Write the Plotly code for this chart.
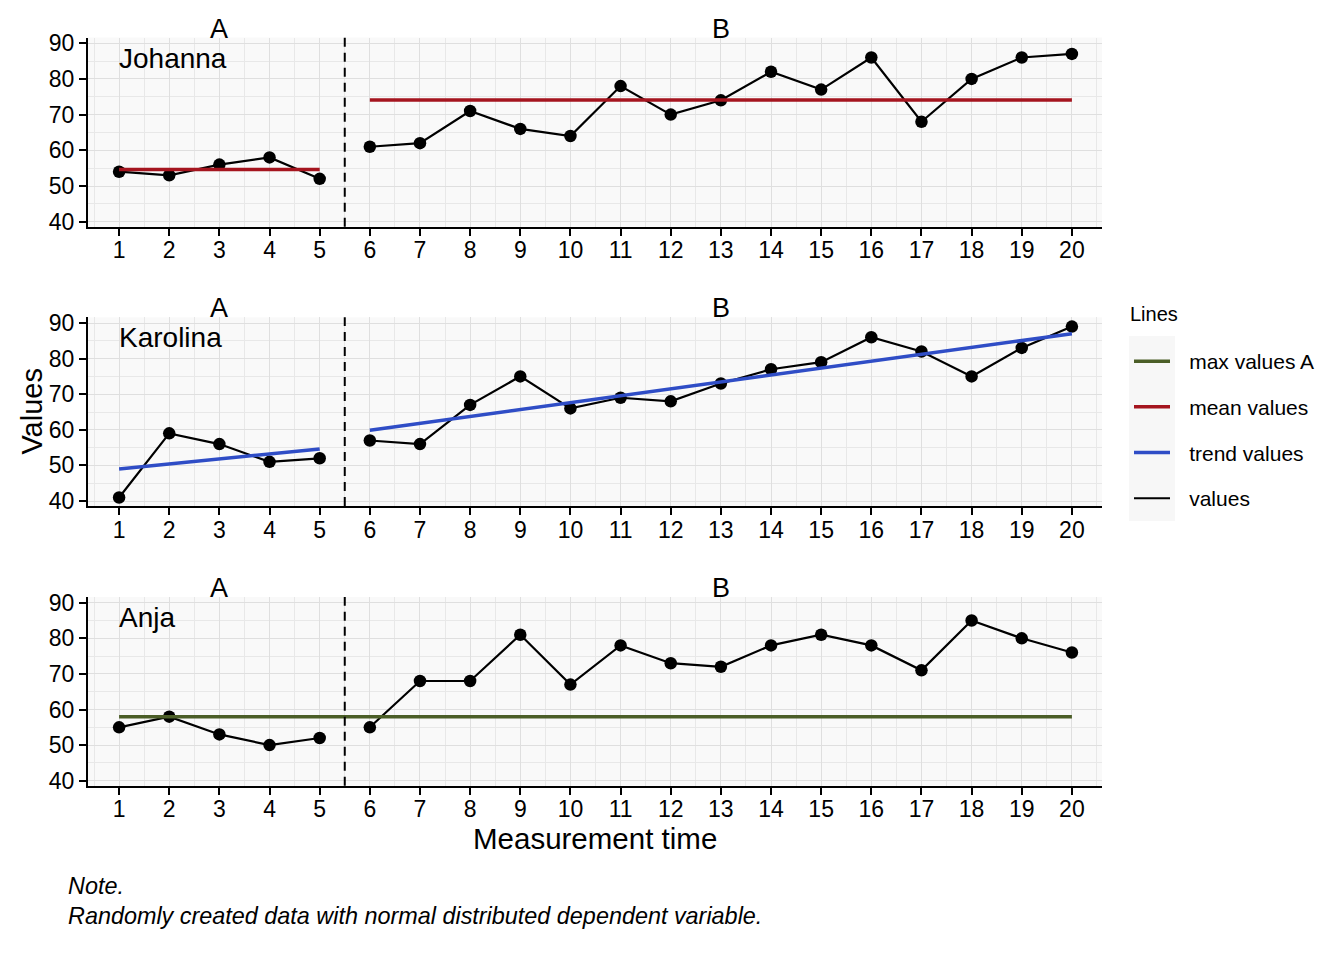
import plotly.graph_objects as go

# ---------------- data ----------------
time_A = [1, 2, 3, 4, 5]
time_B = [6, 7, 8, 9, 10, 11, 12, 13, 14, 15, 16, 17, 18, 19, 20]
tick_labels = ["1", "2", "3", "4", "5", "6", "7", "8", "9", "10",
               "11", "12", "13", "14", "15", "16", "17", "18", "19", "20"]
y_ticks = [40, 50, 60, 70, 80, 90]

persons = ["Johanna", "Karolina", "Anja"]
phases = ["A", "B"]
phase_centers = [3, 13]

johanna_A = [54, 53, 56, 58, 52]
johanna_B = [61, 62, 71, 66, 64, 78, 70, 74, 82, 77, 86, 68, 80, 86, 87]
karolina_A = [41, 59, 56, 51, 52]
karolina_B = [57, 56, 67, 75, 66, 69, 68, 73, 77, 79, 86, 82, 75, 83, 89]
anja_A = [55, 58, 53, 50, 52]
anja_B = [55, 68, 68, 81, 67, 78, 73, 72, 78, 81, 78, 71, 85, 80, 76]

# summary lines
johanna_mean_A = 54.6
johanna_mean_B = 74.1
karolina_trend_A = [49.0, 54.6]   # value at start / end of phase A
karolina_trend_B = [59.9, 87.0]   # value at start / end of phase B
anja_max_A = 58

legend_names = ["max values A", "mean values", "trend values", "values"]

# ---------------- style ----------------
OFF = 8                      # page offset of the figure inside the browser
W, H = 1344 - OFF, 960 - OFF


def px(x):
    return (x - OFF) / W


def py(y):
    return 1 - (y - OFF) / H


FONT = "Liberation Sans, Arial, Helvetica, sans-serif"
C_GREEN = "#4B5E27"
C_RED = "#A5151F"
C_BLUE = "#2F4DC6"
C_BLACK = "#000000"
GRID = "#DFDFDF"
GRID_MINOR = "#E8E8E8"
PANEL_BG = "#F9F9F9"

x_dom = [px(88), px(1102)]
panel_px = [(37.5, 226.7), (317.3, 506.0), (597.0, 785.7)]
y_doms = [[py(b), py(t)] for (t, b) in panel_px]

fig = go.Figure()

values_A = [johanna_A, karolina_A, anja_A]
values_B = [johanna_B, karolina_B, anja_B]

for i in range(3):
    xa = "x" if i == 0 else f"x{i+1}"
    ya = "y" if i == 0 else f"y{i+1}"
    for xs, ys in ((time_A, values_A[i]), (time_B, values_B[i])):
        fig.add_trace(go.Scatter(
            x=xs, y=ys, mode="lines+markers", xaxis=xa, yaxis=ya,
            line=dict(color=C_BLACK, width=2.2),
            marker=dict(color=C_BLACK, size=12.5),
            showlegend=False, hoverinfo="x+y"))

# Johanna means
fig.add_trace(go.Scatter(x=[time_A[0], time_A[-1]], y=[johanna_mean_A, johanna_mean_A],
                         mode="lines", line=dict(color=C_RED, width=3.5),
                         xaxis="x", yaxis="y", showlegend=False))
fig.add_trace(go.Scatter(x=[time_B[0], time_B[-1]], y=[johanna_mean_B, johanna_mean_B],
                         mode="lines", line=dict(color=C_RED, width=3.5),
                         xaxis="x", yaxis="y", showlegend=False))
# Karolina trends
fig.add_trace(go.Scatter(x=[time_A[0], time_A[-1]], y=karolina_trend_A,
                         mode="lines", line=dict(color=C_BLUE, width=3.5),
                         xaxis="x2", yaxis="y2", showlegend=False))
fig.add_trace(go.Scatter(x=[time_B[0], time_B[-1]], y=karolina_trend_B,
                         mode="lines", line=dict(color=C_BLUE, width=3.5),
                         xaxis="x2", yaxis="y2", showlegend=False))
# Anja max A
fig.add_trace(go.Scatter(x=[time_A[0], time_B[-1]], y=[anja_max_A, anja_max_A],
                         mode="lines", line=dict(color=C_GREEN, width=3.5),
                         xaxis="x3", yaxis="y3", showlegend=False))

# legend entries
NB = "<span style='font-size:17px'>" + "\u00a0" * 3 + "</span>"
for name, col, w in zip(legend_names, [C_GREEN, C_RED, C_BLUE, C_BLACK], [3.5, 3.5, 3.5, 2.2]):
    fig.add_trace(go.Scatter(x=[None], y=[None], mode="lines", name=NB + name,
                             line=dict(color=col, width=w), legendgroup=name,
                             showlegend=True, xaxis="x", yaxis="y"))

axis_common = dict(showline=True, linecolor="black", linewidth=2,
                   ticks="outside", ticklen=7, tickwidth=1.6, tickcolor="black",
                   showgrid=True, gridcolor=GRID, gridwidth=1, zeroline=False,
                   automargin=False, tickfont=dict(family=FONT, size=23, color="black"))

layout = dict(width=W, height=H, margin=dict(l=0, r=0, t=0, b=0),
              paper_bgcolor="white", plot_bgcolor=PANEL_BG,
              font=dict(family=FONT, color="black"),
              showlegend=True,
              legend=dict(x=px(1129), y=py(341), xanchor="left", yanchor="top",
                          font=dict(size=21, family=FONT), bgcolor="rgba(0,0,0,0)",
                          traceorder="grouped", tracegroupgap=15.4, itemwidth=36))

shapes = []
annotations = []
for i in range(3):
    sfx = "" if i == 0 else str(i + 1)
    layout[f"xaxis{sfx}"] = dict(axis_common, domain=x_dom, range=[0.38, 20.6],
                                 tickmode="array", tickvals=time_A + time_B, ticktext=tick_labels,
                                 anchor=f"y{sfx}", ticklabelstandoff=-5,
                                 minor=dict(tickmode="linear", tick0=0.5, dtick=1, showgrid=True,
                                            gridcolor=GRID_MINOR, ticks=""))
    layout[f"yaxis{sfx}"] = dict(axis_common, domain=y_doms[i], range=[38.6, 91.6],
                                 tickmode="array", tickvals=y_ticks,
                                 anchor=f"x{sfx}",
                                 minor=dict(tickmode="linear", tick0=45, dtick=10, showgrid=True,
                                            gridcolor=GRID_MINOR, ticks=""))
    shapes.append(dict(type="line", xref=f"x{sfx}", yref=f"y{sfx} domain",
                       x0=5.5, x1=5.5, y0=0, y1=1,
                       line=dict(color="black", width=2, dash="9px,6px")))
    for ph, cx in zip(phases, phase_centers):
        annotations.append(dict(text=ph, xref=f"x{sfx}", yref=f"y{sfx} domain", x=cx, y=1,
                                xanchor="center", yanchor="bottom", yshift=-8, showarrow=False,
                                font=dict(size=27, family=FONT)))
    annotations.append(dict(text=persons[i], xref=f"x{sfx}", yref=f"y{sfx} domain",
                            x=time_A[0], y=1, xanchor="left", yanchor="top", yshift=-3,
                            xshift=-2, showarrow=False, font=dict(size=28, family=FONT)))

annotations.append(dict(text="Values", xref="paper", yref="paper", x=px(32),
                        y=py(411.6), xanchor="center", yanchor="middle", textangle=-90,
                        showarrow=False, font=dict(size=29, family=FONT)))
annotations.append(dict(text="Measurement time", xref="paper", yref="paper",
                        x=px(595), y=py(838), xanchor="center", yanchor="middle",
                        showarrow=False, font=dict(size=29.5, family=FONT)))
annotations.append(dict(text="<i>Note.</i><br><i>Randomly created data with normal distributed dependent variable.</i>",
                        xref="paper", yref="paper", x=px(66), y=py(871),
                        xanchor="left", yanchor="top", align="left", showarrow=False,
                        font=dict(size=23.4, family=FONT)))
annotations.append(dict(text="Lines", xref="paper", yref="paper", x=px(1128), y=py(314),
                        xanchor="left", yanchor="middle", showarrow=False,
                        font=dict(size=20, family=FONT)))

# legend key background
shapes.append(dict(type="rect", xref="paper", yref="paper", x0=px(1129), x1=px(1175),
                   y0=py(521), y1=py(336), fillcolor="#F7F7F7",
                   line=dict(width=0), layer="below"))

layout["shapes"] = shapes
layout["annotations"] = annotations
fig.update_layout(**layout)

fig.write_html("out.html")
